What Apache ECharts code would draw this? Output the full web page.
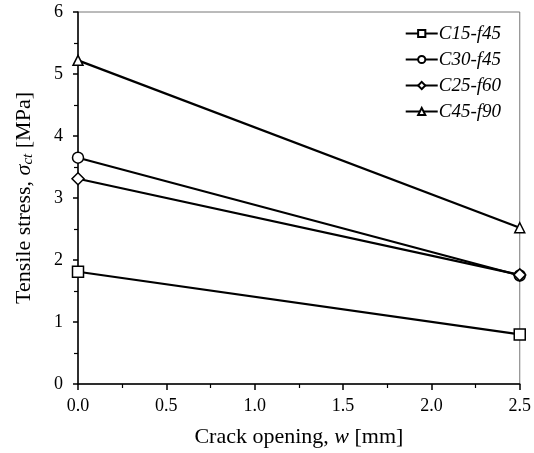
<!DOCTYPE html>
<html>
<head>
<meta charset="utf-8">
<script src="https://cdn.jsdelivr.net/npm/echarts@6/dist/echarts.min.js"></script>
<style>
  html, body { margin: 0; padding: 0; background: #fff; }
  #chart { width: 534px; height: 453px; }
</style>
</head>
<body>
<div id="chart"></div>
<script>
// Crack opening w [mm] at which stress was measured
const crackOpening = [0, 2.5];

// Tensile stress [MPa] per mix
const seriesNames = ['C15-f45', 'C30-f45', 'C25-f60', 'C45-f90'];
const c15f45 = [1.81, 0.80];
const c30f45 = [3.65, 1.75];
const c25f60 = [3.31, 1.76];
const c45f90 = [5.22, 2.52];

const seriesValues = [c15f45, c30f45, c25f60, c45f90];
const symbols = ['rect', 'circle', 'diamond', 'triangle'];
const symbolSizes = [11, 11, 12, 10];

const serif = 'Liberation Serif, Times New Roman, serif';

const chart = echarts.init(document.getElementById('chart'));

const series = seriesNames.map((name, i) => ({
  name: name,
  type: 'line',
  data: crackOpening.map((x, j) => [x, seriesValues[i][j]]),
  symbol: symbols[i],
  symbolSize: symbolSizes[i],
  showAllSymbol: true,
  lineStyle: { color: '#000', width: 2.2 },
  itemStyle: { color: '#fff', borderColor: '#000', borderWidth: 1.5 },
  emphasis: { disabled: true },
  animation: false,
  z: 3
}));

chart.setOption({
  animation: false,
  backgroundColor: '#fff',
  grid: {
    left: 78, right: 10, top: 12, bottom: 69,
    show: true, borderColor: '#777', borderWidth: 1,
    containLabel: false
  },
  legend: {
    orient: 'vertical',
    right: 33,
    top: 24,
    itemWidth: 32,
    itemHeight: 9,
    itemGap: 7,
    data: seriesNames,
    textStyle: { fontFamily: serif, fontStyle: 'italic', fontSize: 19, color: '#000', padding: [0, 0, 0, -4] },
    padding: 0
  },
  xAxis: {
    type: 'value',
    min: 0, max: 2.5, interval: 0.5,
    name: '{a|Crack opening, }{b|w}{a| [mm]}',
    nameLocation: 'middle',
    nameGap: 42,
    nameTextStyle: {
      rich: {
        a: { fontFamily: serif, fontSize: 22, color: '#000' },
        b: { fontFamily: serif, fontSize: 22, fontStyle: 'italic', color: '#000' }
      }
    },
    axisLine: { lineStyle: { color: '#000', width: 1.5 } },
    axisTick: { show: true, inside: false, length: 6, lineStyle: { color: '#000', width: 1.5 } },
    minorTick: { show: true, splitNumber: 2, length: 4, lineStyle: { color: '#000', width: 1.2 } },
    splitLine: { show: false },
    axisLabel: {
      fontFamily: serif, fontSize: 18, color: '#000', margin: 13,
      formatter: v => v.toFixed(1)
    }
  },
  yAxis: {
    type: 'value',
    min: 0, max: 6, interval: 1,
    name: '{a|Tensile stress, }{b|σ}{c|ct}{a| [MPa]}',
    nameLocation: 'middle',
    nameRotate: 90,
    nameGap: 42,
    nameTextStyle: {
      rich: {
        a: { fontFamily: serif, fontSize: 22, color: '#000', lineHeight: 24 },
        b: { fontFamily: serif, fontSize: 22, fontStyle: 'italic', color: '#000', lineHeight: 24 },
        c: { fontFamily: serif, fontSize: 15, fontStyle: 'italic', color: '#000', verticalAlign: 'bottom', lineHeight: 24, padding: [8, 0, 0, 0] }
      }
    },
    axisLine: { show: true, lineStyle: { color: '#000', width: 1.5 } },
    axisTick: { show: true, inside: false, length: 5, lineStyle: { color: '#000', width: 1.5 } },
    minorTick: { show: true, splitNumber: 2, length: 4, lineStyle: { color: '#000', width: 1.2 } },
    splitLine: { show: false },
    axisLabel: { fontFamily: serif, fontSize: 18, color: '#000', margin: 15 }
  },
  series: series
});
</script>
</body>
</html>
